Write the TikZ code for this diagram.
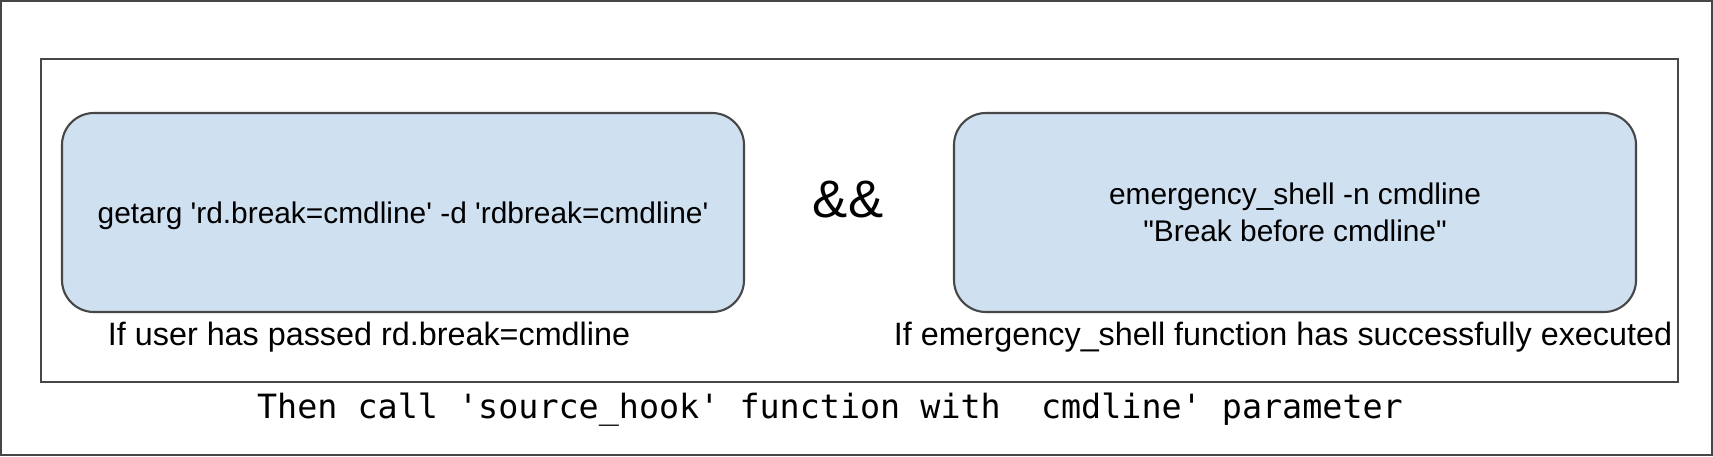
\documentclass[tikz,border=0pt]{standalone}
\usepackage{fontspec}
\newfontfamily\boxfont{Liberation Sans}
\newfontfamily\codefont{DejaVu Sans Mono}
\definecolor{boxblue}{HTML}{CFE0F1}
\definecolor{edgegray}{HTML}{474747}
\begin{document}
	\begin{tikzpicture}[line width=0.6pt,
		cmdbox/.style={draw=edgegray,fill=boxblue,rounded corners=0.32cm,minimum width=6.82cm,minimum height=1.99cm,align=center,font=\boxfont\fontsize{8.5}{10.5}\selectfont},
		caption/.style={anchor=base,inner sep=0pt,font=\boxfont\fontsize{9.2}{11}\selectfont}]
		\useasboundingbox (0,0) rectangle (17.13,4.56);
		\fill[color=white] (0,0) rectangle (17.13,4.56);
		\draw[color=edgegray] (0.01,0.01) rectangle (17.12,4.55);
		\draw[color=edgegray] (0.41,0.74) rectangle (16.78,3.97);
		\node[cmdbox,text depth=0pt] (getarg) at (4.03,2.435) {getarg 'rd.break=cmdline' -d 'rdbreak=cmdline'};
		\node[cmdbox] (shell) at (12.95,2.435) {emergency\_shell -n cmdline\\"Break before cmdline"};
		\node[font=\boxfont\fontsize{15}{18}\selectfont] (and) at (8.48,2.56) {\&\&};
		\node[caption] (getargnote) at (3.69,1.11) {If user has passed rd.break=cmdline};
		\node[caption] (shellnote) at (12.83,1.11) {If emergency\_shell function has successfully executed};
		\node[anchor=base,inner sep=0pt,font=\codefont\fontsize{9.5}{11}\selectfont] (hook) at (8.30,0.38) {Then call 'source\_hook' function with\ \ cmdline' parameter};
	\end{tikzpicture}
\end{document}
